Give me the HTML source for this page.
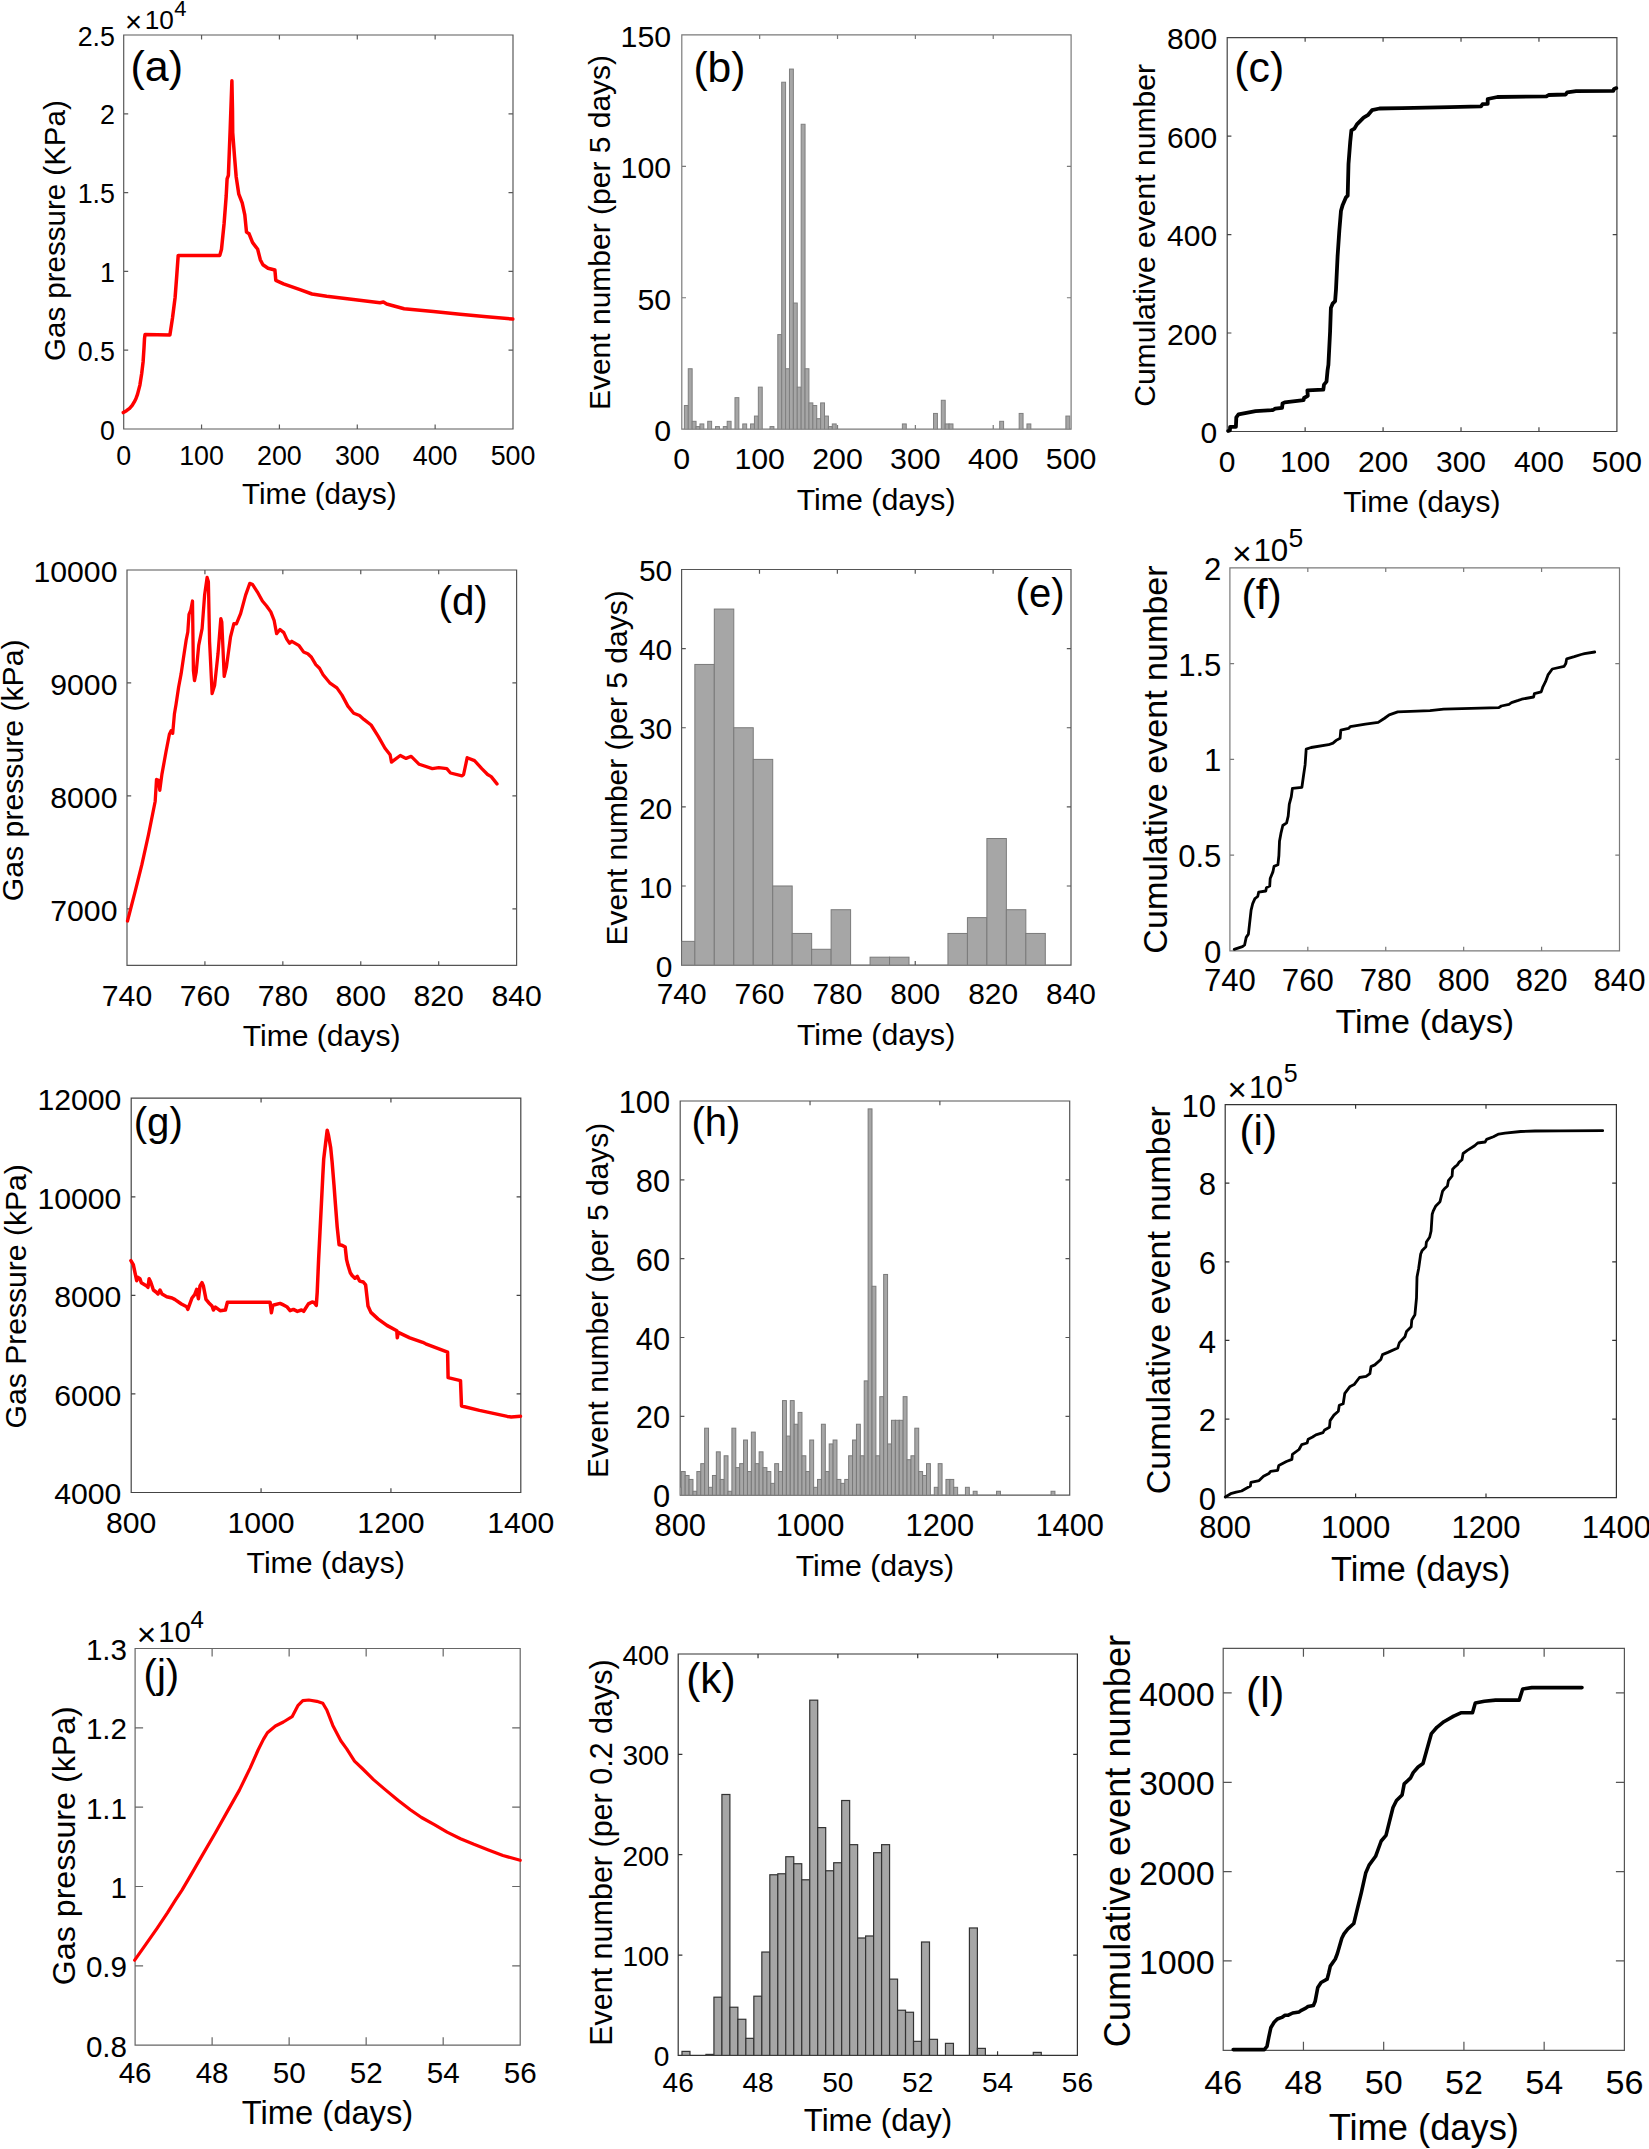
<!DOCTYPE html>
<html><head><meta charset="utf-8"><title>Figure</title><style>html,body{margin:0;padding:0;background:#fff;}svg{display:block;}</style></head><body><svg xmlns="http://www.w3.org/2000/svg" width="1649" height="2149" viewBox="0 0 1649 2149" font-family='"Liberation Sans", Arial, Helvetica, sans-serif' fill="#000"><g id="pa"><clipPath id="ca"><rect x="123.7" y="35" width="389.3" height="394"/></clipPath><path d="M123.7,35H513V429H123.7ZM123.7,429v-4.5M123.7,35v4.5M201.56,429v-4.5M201.56,35v4.5M279.42,429v-4.5M279.42,35v4.5M357.28,429v-4.5M357.28,35v4.5M435.14,429v-4.5M435.14,35v4.5M513,429v-4.5M513,35v4.5M123.7,429h4.5M513,429h-4.5M123.7,350.2h4.5M513,350.2h-4.5M123.7,271.4h4.5M513,271.4h-4.5M123.7,192.6h4.5M513,192.6h-4.5M123.7,113.8h4.5M513,113.8h-4.5M123.7,35h4.5M513,35h-4.5" fill="none" stroke="#5a5a5a" stroke-width="1.2"/><path d="M123.3,412.6 L126.5,410.7 L129.6,408.4 L132.2,405.4 L134.3,401.9 L136,398.4 L137.5,394.4 L139.9,385.1 L141.7,373.5 L143.1,361.9 L144,347.9 L144.5,338.6 L145,334.6 L169.9,334.9 L172.5,318 L175.1,297.5 L176.8,275 L178.2,255.4 L219.8,255.4 L221.5,249.3 L224.1,223.5 L226.2,196 L227.1,178.8 L228.4,175.3 L230.2,128.8 L231.9,80.7 L232.5,110 L232.7,132.3 L234.5,156.4 L236.2,177 L238.8,194.2 L242.2,202.9 L244.8,214.9 L246.5,232.1 L249.1,233.8 L252.5,242.4 L257.7,249.3 L260.3,259.7 L262.9,264.8 L268,268.3 L274.9,270 L275.8,280.3 L283.5,283.8 L300,289.7 L312,294 L326.7,296.3 L353.4,299.6 L380,302.7 L383.4,302 L386.7,304 L404.1,308.7 L433.4,311.4 L460.1,314.3 L486.8,316.7 L512.8,319.1" fill="none" stroke="#ff0000" stroke-width="3.5" stroke-linejoin="round" stroke-linecap="round"/><g font-size="26.8"><text x="123.7" y="464.86" text-anchor="middle">0</text><text x="201.56" y="464.86" text-anchor="middle">100</text><text x="279.42" y="464.86" text-anchor="middle">200</text><text x="357.28" y="464.86" text-anchor="middle">300</text><text x="435.14" y="464.86" text-anchor="middle">400</text><text x="513" y="464.86" text-anchor="middle">500</text><text x="114.91" y="439.58" text-anchor="end">0</text><text x="114.91" y="360.78" text-anchor="end">0.5</text><text x="114.91" y="281.98" text-anchor="end">1</text><text x="114.91" y="203.18" text-anchor="end">1.5</text><text x="114.91" y="124.38" text-anchor="end">2</text><text x="114.91" y="45.58" text-anchor="end">2.5</text></g><text x="319.4" y="503.89" font-size="29.5" text-anchor="middle">Time (days)</text><text transform="translate(65.09,230.6) rotate(-90)" font-size="29.5" text-anchor="middle">Gas pressure (KPa)</text><text x="130.42" y="81.17" font-size="43">(a)</text><text x="124.98" y="32.02" font-size="29.16">×</text><text x="144.68" y="28.67" font-size="26.2">10</text><text x="174.24" y="16.1" font-size="22">4</text></g>
<g id="pb"><clipPath id="cb"><rect x="681.8" y="34.9" width="389.3" height="394.3"/></clipPath><path d="M681.8,34.9H1071.1V429.2H681.8ZM681.8,429.2v-4.2M681.8,34.9v4.2M759.66,429.2v-4.2M759.66,34.9v4.2M837.52,429.2v-4.2M837.52,34.9v4.2M915.38,429.2v-4.2M915.38,34.9v4.2M993.24,429.2v-4.2M993.24,34.9v4.2M1071.1,429.2v-4.2M1071.1,34.9v4.2M681.8,429.2h4.2M1071.1,429.2h-4.2M681.8,297.77h4.2M1071.1,297.77h-4.2M681.8,166.33h4.2M1071.1,166.33h-4.2M681.8,34.9h4.2M1071.1,34.9h-4.2" fill="none" stroke="#7a7a7a" stroke-width="1.2"/><g clip-path="url(#cb)" fill="#a6a6a6" stroke="#7f7f7f" stroke-width="1.0"><rect x="684.37" y="405.54" width="3.89" height="23.66"/><rect x="688.26" y="368.74" width="3.89" height="60.46"/><rect x="692.16" y="421.31" width="3.89" height="7.89"/><rect x="696.05" y="426.57" width="3.89" height="2.63"/><rect x="699.94" y="423.94" width="3.89" height="5.26"/><rect x="707.73" y="421.31" width="3.89" height="7.89"/><rect x="715.51" y="426.57" width="3.89" height="2.63"/><rect x="723.3" y="426.57" width="3.89" height="2.63"/><rect x="727.19" y="421.31" width="3.89" height="7.89"/><rect x="734.98" y="397.66" width="3.89" height="31.54"/><rect x="742.76" y="423.94" width="3.89" height="5.26"/><rect x="750.55" y="423.94" width="3.89" height="5.26"/><rect x="754.44" y="416.06" width="3.89" height="13.14"/><rect x="758.34" y="387.14" width="3.89" height="42.06"/><rect x="770.02" y="426.57" width="3.89" height="2.63"/><rect x="777.8" y="334.57" width="3.89" height="94.63"/><rect x="781.69" y="82.22" width="3.89" height="346.98"/><rect x="785.59" y="368.74" width="3.89" height="60.46"/><rect x="789.48" y="69.07" width="3.89" height="360.13"/><rect x="793.37" y="303.02" width="3.89" height="126.18"/><rect x="797.27" y="387.14" width="3.89" height="42.06"/><rect x="801.16" y="124.27" width="3.89" height="304.93"/><rect x="805.05" y="368.74" width="3.89" height="60.46"/><rect x="808.95" y="402.91" width="3.89" height="26.29"/><rect x="812.84" y="405.54" width="3.89" height="23.66"/><rect x="816.73" y="418.69" width="3.89" height="10.51"/><rect x="820.62" y="402.91" width="3.89" height="26.29"/><rect x="824.52" y="416.06" width="3.89" height="13.14"/><rect x="828.41" y="426.57" width="3.89" height="2.63"/><rect x="832.3" y="423.94" width="3.89" height="5.26"/><rect x="902.38" y="423.94" width="3.89" height="5.26"/><rect x="933.52" y="413.43" width="3.89" height="15.77"/><rect x="941.31" y="400.28" width="3.89" height="28.92"/><rect x="945.2" y="423.94" width="3.89" height="5.26"/><rect x="949.09" y="423.94" width="3.89" height="5.26"/><rect x="999.7" y="421.31" width="3.89" height="7.89"/><rect x="1019.17" y="413.43" width="3.89" height="15.77"/><rect x="1026.95" y="423.94" width="3.89" height="5.26"/><rect x="1065.88" y="416.06" width="3.89" height="13.14"/></g><g font-size="30.3"><text x="681.8" y="468.91" text-anchor="middle">0</text><text x="759.66" y="468.91" text-anchor="middle">100</text><text x="837.52" y="468.91" text-anchor="middle">200</text><text x="915.38" y="468.91" text-anchor="middle">300</text><text x="993.24" y="468.91" text-anchor="middle">400</text><text x="1071.1" y="468.91" text-anchor="middle">500</text><text x="671.16" y="441" text-anchor="end">0</text><text x="671.16" y="309.57" text-anchor="end">50</text><text x="671.16" y="178.14" text-anchor="end">100</text><text x="671.16" y="46.7" text-anchor="end">150</text></g><text x="876.1" y="510.17" font-size="30.3" text-anchor="middle">Time (days)</text><text transform="translate(609.75,232.5) rotate(-90)" font-size="30" text-anchor="middle">Event number (per 5 days)</text><text x="693.44" y="82.28" font-size="42.6">(b)</text></g>
<g id="pc"><clipPath id="cc"><rect x="1227.2" y="37.6" width="389.7" height="393.9"/></clipPath><path d="M1227.2,37.6H1616.9V431.5H1227.2ZM1227.2,431.5v-4.2M1227.2,37.6v4.2M1305.14,431.5v-4.2M1305.14,37.6v4.2M1383.08,431.5v-4.2M1383.08,37.6v4.2M1461.02,431.5v-4.2M1461.02,37.6v4.2M1538.96,431.5v-4.2M1538.96,37.6v4.2M1616.9,431.5v-4.2M1616.9,37.6v4.2M1227.2,431.5h4.2M1616.9,431.5h-4.2M1227.2,333.02h4.2M1616.9,333.02h-4.2M1227.2,234.55h4.2M1616.9,234.55h-4.2M1227.2,136.08h4.2M1616.9,136.08h-4.2M1227.2,37.6h4.2M1616.9,37.6h-4.2" fill="none" stroke="#444" stroke-width="1.2"/><path d="M1228.2,431 L1229.9,430.5 L1230.1,426.8 L1235.9,426.8 L1236.3,417.3 L1238.5,414.4 L1255.6,411.1 L1273,410 L1275.2,408.6 L1282.1,407.8 L1282.5,403.5 L1284.7,402.4 L1303.6,400.2 L1304,398 L1307.8,395.8 L1307.4,390.4 L1323.3,389.7 L1324,384.6 L1326.5,381.6 L1327.6,370 L1328.4,364.9 L1330.1,331.4 L1330.9,307.9 L1332.6,303.7 L1335.1,301.2 L1336,289.5 L1337.6,256 L1339.3,230.8 L1341,210.7 L1342.7,204.9 L1346,197.3 L1347.7,195.6 L1348.5,163.8 L1350.2,142 L1351.4,130.3 L1354.4,128.6 L1356.9,124.4 L1359.4,121.9 L1363.6,117.7 L1367.8,115.2 L1372,110.2 L1379.5,108.5 L1402,108.2 L1449.8,107.1 L1481,106.4 L1482.5,104.2 L1487.7,103.9 L1487.7,99 L1497.4,97 L1546.4,96.4 L1548.6,95 L1565.7,94.5 L1567.2,92.3 L1576.1,91.2 L1613.3,90.8 L1614,89 L1616.3,88.1" fill="none" stroke="#000" stroke-width="3.8" stroke-linejoin="round" stroke-linecap="round"/><g font-size="30"><text x="1227.2" y="471.9" text-anchor="middle">0</text><text x="1305.14" y="471.9" text-anchor="middle">100</text><text x="1383.08" y="471.9" text-anchor="middle">200</text><text x="1461.02" y="471.9" text-anchor="middle">300</text><text x="1538.96" y="471.9" text-anchor="middle">400</text><text x="1616.9" y="471.9" text-anchor="middle">500</text><text x="1217.15" y="443.2" text-anchor="end">0</text><text x="1217.15" y="344.72" text-anchor="end">200</text><text x="1217.15" y="246.25" text-anchor="end">400</text><text x="1217.15" y="147.78" text-anchor="end">600</text><text x="1217.15" y="49.3" text-anchor="end">800</text></g><text x="1421.9" y="511.95" font-size="30" text-anchor="middle">Time (days)</text><text transform="translate(1154.82,235.4) rotate(-90)" font-size="30.1" text-anchor="middle">Cumulative event number</text><text x="1234.33" y="82.23" font-size="42.8">(c)</text></g>
<g id="pd"><clipPath id="cd"><rect x="127" y="570" width="389.6" height="395.4"/></clipPath><path d="M127,570H516.6V965.4H127ZM127,965.4v-4.2M127,570v4.2M204.92,965.4v-4.2M204.92,570v4.2M282.84,965.4v-4.2M282.84,570v4.2M360.76,965.4v-4.2M360.76,570v4.2M438.68,965.4v-4.2M438.68,570v4.2M516.6,965.4v-4.2M516.6,570v4.2M127,908.91h4.2M516.6,908.91h-4.2M127,795.94h4.2M516.6,795.94h-4.2M127,682.97h4.2M516.6,682.97h-4.2M127,570h4.2M516.6,570h-4.2" fill="none" stroke="#555" stroke-width="1.2"/><path d="M127.5,921 L135.1,891.7 L141.8,864.9 L148.5,834.7 L155.2,801.2 L156.5,779.4 L158.5,780.3 L159.8,790.3 L161.9,774.4 L166,751.8 L169.4,734.2 L171.1,730.8 L172.7,733.3 L174.4,714.1 L176.1,704 L178.6,687.3 L181.1,673.9 L183.6,657.1 L186.1,640.4 L187.8,632 L189,614.4 L190.8,610 L192.5,601 L193.4,670.5 L194.5,680.6 L196.2,672.2 L198.7,645.4 L202.1,628.6 L204.6,595.1 L207.1,577.5 L208.4,581.7 L209.6,642 L212.1,693.6 L214.6,685.6 L218,653.8 L220.8,618.6 L221.8,621.9 L224.2,676.4 L226.4,667.2 L230.5,637 L233.9,623.6 L236.4,623.9 L240.6,613.6 L245.6,595.1 L249.8,583.4 L252.3,584.2 L257.3,591.8 L262.4,601 L266.6,606 L270.8,611.9 L274.1,620.3 L276.6,633.7 L280,629.5 L283.8,632.6 L286.7,639.1 L289.6,643.2 L291.8,641.3 L299.1,645.7 L303.5,651.9 L307.8,653.7 L311.5,657.3 L315.8,664.6 L319.5,668.2 L323.1,674.8 L329.7,682.8 L336.9,687.9 L342,695.1 L347.9,706.1 L353.7,713.3 L359.5,715.5 L363.9,719.4 L371.1,725 L378.4,736.6 L385,748.3 L390.1,754.8 L391.5,762.1 L394.4,759.9 L400.3,755.5 L404.6,757.7 L406.1,758.4 L411.2,756.3 L419.2,764.3 L432.3,768.6 L438.8,767.6 L446.8,768.6 L450.5,773 L462.1,775.9 L463.6,774.5 L467.2,757.7 L474.5,760.6 L481.8,768.6 L487.6,774.5 L491.2,776.6 L497,783.9" fill="none" stroke="#ff0000" stroke-width="3.3" stroke-linejoin="round" stroke-linecap="round"/><g font-size="30.2"><text x="127" y="1005.74" text-anchor="middle">740</text><text x="204.92" y="1005.74" text-anchor="middle">760</text><text x="282.84" y="1005.74" text-anchor="middle">780</text><text x="360.76" y="1005.74" text-anchor="middle">800</text><text x="438.68" y="1005.74" text-anchor="middle">820</text><text x="516.6" y="1005.74" text-anchor="middle">840</text><text x="117.46" y="920.68" text-anchor="end">7000</text><text x="117.46" y="807.71" text-anchor="end">8000</text><text x="117.46" y="694.74" text-anchor="end">9000</text><text x="117.46" y="581.77" text-anchor="end">10000</text></g><text x="321.6" y="1046.12" font-size="30.1" text-anchor="middle">Time (days)</text><text transform="translate(22.89,770.3) rotate(-90)" font-size="30.2" text-anchor="middle">Gas pressure (kPa)</text><text x="438.48" y="615.32" font-size="40.3">(d)</text></g>
<g id="pe"><clipPath id="ce"><rect x="681.6" y="569.5" width="389.4" height="395.6"/></clipPath><path d="M681.6,569.5H1071V965.1H681.6ZM681.6,965.1v-4.2M681.6,569.5v4.2M759.48,965.1v-4.2M759.48,569.5v4.2M837.36,965.1v-4.2M837.36,569.5v4.2M915.24,965.1v-4.2M915.24,569.5v4.2M993.12,965.1v-4.2M993.12,569.5v4.2M1071,965.1v-4.2M1071,569.5v4.2M681.6,965.1h4.2M1071,965.1h-4.2M681.6,885.98h4.2M1071,885.98h-4.2M681.6,806.86h4.2M1071,806.86h-4.2M681.6,727.74h4.2M1071,727.74h-4.2M681.6,648.62h4.2M1071,648.62h-4.2M681.6,569.5h4.2M1071,569.5h-4.2" fill="none" stroke="#555" stroke-width="1.2"/><g clip-path="url(#ce)" fill="#a6a6a6" stroke="#7a7a7a" stroke-width="1.0"><rect x="681.6" y="941.36" width="13.24" height="23.74"/><rect x="694.84" y="664.44" width="19.47" height="300.66"/><rect x="714.31" y="609.06" width="19.47" height="356.04"/><rect x="733.78" y="727.74" width="19.47" height="237.36"/><rect x="753.25" y="759.39" width="19.47" height="205.71"/><rect x="772.72" y="885.98" width="19.47" height="79.12"/><rect x="792.19" y="933.45" width="19.47" height="31.65"/><rect x="811.66" y="949.28" width="19.47" height="15.82"/><rect x="831.13" y="909.72" width="19.47" height="55.38"/><rect x="870.07" y="957.19" width="19.47" height="7.91"/><rect x="889.54" y="957.19" width="19.47" height="7.91"/><rect x="947.95" y="933.45" width="19.47" height="31.65"/><rect x="967.42" y="917.63" width="19.47" height="47.47"/><rect x="986.89" y="838.51" width="19.47" height="126.59"/><rect x="1006.36" y="909.72" width="19.47" height="55.38"/><rect x="1025.83" y="933.45" width="19.47" height="31.65"/></g><g font-size="29.9"><text x="681.6" y="1004.33" text-anchor="middle">740</text><text x="759.48" y="1004.33" text-anchor="middle">760</text><text x="837.36" y="1004.33" text-anchor="middle">780</text><text x="915.24" y="1004.33" text-anchor="middle">800</text><text x="993.12" y="1004.33" text-anchor="middle">820</text><text x="1071" y="1004.33" text-anchor="middle">840</text><text x="672.25" y="976.77" text-anchor="end">0</text><text x="672.25" y="897.65" text-anchor="end">10</text><text x="672.25" y="818.53" text-anchor="end">20</text><text x="672.25" y="739.41" text-anchor="end">30</text><text x="672.25" y="660.29" text-anchor="end">40</text><text x="672.25" y="581.17" text-anchor="end">50</text></g><text x="876.1" y="1045" font-size="30.2" text-anchor="middle">Time (days)</text><text transform="translate(626.75,767.9) rotate(-90)" font-size="30" text-anchor="middle">Event number (per 5 days)</text><text x="1015.6" y="606.9" font-size="40">(e)</text></g>
<g id="pf"><clipPath id="cf"><rect x="1229.9" y="567.9" width="389.6" height="383"/></clipPath><path d="M1229.9,567.9H1619.5V950.9H1229.9ZM1229.9,950.9v-4.2M1229.9,567.9v4.2M1307.82,950.9v-4.2M1307.82,567.9v4.2M1385.74,950.9v-4.2M1385.74,567.9v4.2M1463.66,950.9v-4.2M1463.66,567.9v4.2M1541.58,950.9v-4.2M1541.58,567.9v4.2M1619.5,950.9v-4.2M1619.5,567.9v4.2M1229.9,950.9h4.2M1619.5,950.9h-4.2M1229.9,855.15h4.2M1619.5,855.15h-4.2M1229.9,759.4h4.2M1619.5,759.4h-4.2M1229.9,663.65h4.2M1619.5,663.65h-4.2M1229.9,567.9h4.2M1619.5,567.9h-4.2" fill="none" stroke="#7a7a7a" stroke-width="1.2"/><path d="M1234.2,949.4 L1242.4,946.7 L1244.6,945 L1246.2,937.4 L1248.4,934.1 L1249.5,924.3 L1251.1,910.1 L1252.7,903.6 L1254.9,898.6 L1257.7,896.5 L1258.7,892.1 L1265.8,891 L1266.4,887.7 L1269.7,886.1 L1270.2,878.5 L1272.9,871.9 L1274,866.4 L1277.9,864.8 L1278.9,855.5 L1279.5,841.3 L1281.1,832.6 L1282.8,825.5 L1286.6,822.8 L1288.2,816.2 L1289.3,804.2 L1291.3,796.6 L1292.4,788.4 L1301.9,787.3 L1303.5,775.8 L1305.1,764.9 L1306.2,749.1 L1311.1,747.5 L1328.6,744.7 L1333,743.1 L1336.2,740.4 L1340.1,738.2 L1340.8,730.1 L1348.5,728.4 L1350.2,726.7 L1365.5,724.1 L1378.2,722.4 L1384.2,718.5 L1389.2,714.8 L1397.7,711.9 L1430,710.6 L1443.6,709.2 L1498.8,707.7 L1501.3,706 L1509,704.3 L1511.5,702.6 L1518.3,700.4 L1521.7,699.2 L1533.6,697 L1534.4,693.6 L1541.2,691.9 L1542.9,686.8 L1545.5,681.7 L1548,674.9 L1552.3,669 L1564.1,666.4 L1565.8,663.5 L1566.7,658.8 L1574.3,656.7 L1581.1,654.5 L1584.5,653.7 L1594.7,652" fill="none" stroke="#000" stroke-width="2.8" stroke-linejoin="round" stroke-linecap="round"/><g font-size="31.1"><text x="1229.9" y="990.67" text-anchor="middle">740</text><text x="1307.82" y="990.67" text-anchor="middle">760</text><text x="1385.74" y="990.67" text-anchor="middle">780</text><text x="1463.66" y="990.67" text-anchor="middle">800</text><text x="1541.58" y="990.67" text-anchor="middle">820</text><text x="1619.5" y="990.67" text-anchor="middle">840</text><text x="1221.4" y="962.99" text-anchor="end">0</text><text x="1221.4" y="867.24" text-anchor="end">0.5</text><text x="1221.4" y="771.49" text-anchor="end">1</text><text x="1221.4" y="675.74" text-anchor="end">1.5</text><text x="1221.4" y="579.99" text-anchor="end">2</text></g><text x="1424.8" y="1032.82" font-size="34.1" text-anchor="middle">Time (days)</text><text transform="translate(1167.02,759.5) rotate(-90)" font-size="34.1" text-anchor="middle">Cumulative event number</text><text x="1241.43" y="609.43" font-size="42.8">(f)</text><text x="1231.95" y="564.74" font-size="33.87">×</text><text x="1253.41" y="560.94" font-size="31.3">10</text><text x="1288.61" y="546.8" font-size="26.5">5</text></g>
<g id="pg"><clipPath id="cg"><rect x="131.2" y="1098.2" width="389.6" height="394.3"/></clipPath><path d="M131.2,1098.2H520.8V1492.5H131.2ZM131.2,1492.5v-4.2M131.2,1098.2v4.2M261.07,1492.5v-4.2M261.07,1098.2v4.2M390.93,1492.5v-4.2M390.93,1098.2v4.2M520.8,1492.5v-4.2M520.8,1098.2v4.2M131.2,1492.5h4.2M520.8,1492.5h-4.2M131.2,1393.92h4.2M520.8,1393.92h-4.2M131.2,1295.35h4.2M520.8,1295.35h-4.2M131.2,1196.78h4.2M520.8,1196.78h-4.2M131.2,1098.2h4.2M520.8,1098.2h-4.2" fill="none" stroke="#444" stroke-width="1.2"/><path d="M130.9,1260.7 L133.3,1264.7 L136.7,1280.7 L138,1277.4 L140,1278.7 L141.3,1282.7 L146.7,1286 L148,1287.4 L149.1,1278.7 L150.7,1282 L153.4,1290 L156,1292 L158,1294 L160,1290 L162,1294 L166.7,1296.7 L172,1298 L174.7,1299.4 L181.4,1304 L186.7,1306.7 L187.8,1309.4 L192,1298 L194.7,1294.7 L196.7,1289.4 L198.4,1298.7 L200,1286 L202,1282.7 L203.4,1286 L206,1299.4 L208.7,1302.7 L212,1306 L213.4,1310 L215.4,1307.1 L220.1,1310.7 L225.4,1310 L227.4,1302.3 L270.1,1302.3 L271.4,1312.7 L272.8,1305.4 L274.8,1304.7 L280.1,1303.4 L282.8,1304.7 L286.8,1306.7 L290.1,1310.7 L293.4,1309.4 L297.4,1311.4 L301.5,1310 L303.7,1311.3 L308.4,1303.9 L312.1,1302 L314,1302.5 L316.3,1305.3 L317.2,1292.3 L318.6,1259.7 L320,1231.7 L321.4,1203.8 L322.8,1175.9 L323.7,1159.1 L325.6,1143.3 L327.2,1130.2 L328.4,1134.9 L330.7,1147.9 L332.1,1161.9 L334,1185.2 L335.4,1203.8 L337.2,1227.1 L339.1,1244.8 L341.9,1245.2 L345.2,1247.1 L346.6,1259.7 L348,1265.3 L350.3,1272.7 L352.1,1275.5 L354.9,1278.3 L357.3,1276.4 L359.6,1281.1 L363.3,1282 L365.6,1284.8 L367,1296.9 L368,1306 L370.9,1312.4 L377.9,1318.9 L386.9,1325.4 L396.8,1330.8 L397.3,1337.8 L398.3,1332.3 L409.8,1337.8 L422.7,1342.3 L425.7,1343.8 L447.6,1352.2 L448.1,1377.6 L460.5,1380.6 L461.5,1406 L479.4,1410.4 L507.3,1416.4 L511.2,1416.9 L520.5,1416.2" fill="none" stroke="#ff0000" stroke-width="3.5" stroke-linejoin="round" stroke-linecap="round"/><g font-size="30.2"><text x="131.2" y="1532.54" text-anchor="middle">800</text><text x="261.07" y="1532.54" text-anchor="middle">1000</text><text x="390.93" y="1532.54" text-anchor="middle">1200</text><text x="520.8" y="1532.54" text-anchor="middle">1400</text><text x="121.36" y="1504.27" text-anchor="end">4000</text><text x="121.36" y="1405.69" text-anchor="end">6000</text><text x="121.36" y="1307.12" text-anchor="end">8000</text><text x="121.36" y="1208.55" text-anchor="end">10000</text><text x="121.36" y="1109.97" text-anchor="end">12000</text></g><text x="325.7" y="1573.39" font-size="30.2" text-anchor="middle">Time (days)</text><text transform="translate(26.22,1296.3) rotate(-90)" font-size="30.1" text-anchor="middle">Gas Pressure (kPa)</text><text x="133.69" y="1136.14" font-size="40.2">(g)</text></g>
<g id="ph"><clipPath id="ch"><rect x="680.2" y="1101" width="389.5" height="394.2"/></clipPath><path d="M680.2,1101H1069.7V1495.2H680.2ZM680.2,1495.2v-4.2M680.2,1101v4.2M810.03,1495.2v-4.2M810.03,1101v4.2M939.87,1495.2v-4.2M939.87,1101v4.2M1069.7,1495.2v-4.2M1069.7,1101v4.2M680.2,1495.2h4.2M1069.7,1495.2h-4.2M680.2,1416.36h4.2M1069.7,1416.36h-4.2M680.2,1337.52h4.2M1069.7,1337.52h-4.2M680.2,1258.68h4.2M1069.7,1258.68h-4.2M680.2,1179.84h4.2M1069.7,1179.84h-4.2M680.2,1101h4.2M1069.7,1101h-4.2" fill="none" stroke="#555" stroke-width="1.2"/><g clip-path="url(#ch)" fill="#a6a6a6" stroke="#7a7a7a" stroke-width="1.0"><rect x="677.41" y="1487.32" width="3.89" height="7.88"/><rect x="681.3" y="1471.55" width="3.89" height="23.65"/><rect x="685.19" y="1475.49" width="3.89" height="19.71"/><rect x="689.08" y="1479.43" width="3.89" height="15.77"/><rect x="692.98" y="1491.26" width="3.89" height="3.94"/><rect x="696.87" y="1471.55" width="3.89" height="23.65"/><rect x="700.76" y="1463.66" width="3.89" height="31.54"/><rect x="704.65" y="1428.19" width="3.89" height="67.01"/><rect x="708.54" y="1487.32" width="3.89" height="7.88"/><rect x="712.44" y="1475.49" width="3.89" height="19.71"/><rect x="716.33" y="1451.84" width="3.89" height="43.36"/><rect x="720.22" y="1479.43" width="3.89" height="15.77"/><rect x="724.11" y="1455.78" width="3.89" height="39.42"/><rect x="728" y="1491.26" width="3.89" height="3.94"/><rect x="731.9" y="1428.19" width="3.89" height="67.01"/><rect x="735.79" y="1467.61" width="3.89" height="27.59"/><rect x="739.68" y="1463.66" width="3.89" height="31.54"/><rect x="743.57" y="1440.01" width="3.89" height="55.19"/><rect x="747.46" y="1471.55" width="3.89" height="23.65"/><rect x="751.36" y="1432.13" width="3.89" height="63.07"/><rect x="755.25" y="1463.66" width="3.89" height="31.54"/><rect x="759.14" y="1451.84" width="3.89" height="43.36"/><rect x="763.03" y="1467.61" width="3.89" height="27.59"/><rect x="766.92" y="1471.55" width="3.89" height="23.65"/><rect x="770.82" y="1483.37" width="3.89" height="11.83"/><rect x="774.71" y="1463.66" width="3.89" height="31.54"/><rect x="778.6" y="1471.55" width="3.89" height="23.65"/><rect x="782.49" y="1400.59" width="3.89" height="94.61"/><rect x="786.38" y="1436.07" width="3.89" height="59.13"/><rect x="790.28" y="1400.59" width="3.89" height="94.61"/><rect x="794.17" y="1424.24" width="3.89" height="70.96"/><rect x="798.06" y="1412.42" width="3.89" height="82.78"/><rect x="801.95" y="1455.78" width="3.89" height="39.42"/><rect x="805.84" y="1471.55" width="3.89" height="23.65"/><rect x="809.74" y="1440.01" width="3.89" height="55.19"/><rect x="813.63" y="1487.32" width="3.89" height="7.88"/><rect x="817.52" y="1479.43" width="3.89" height="15.77"/><rect x="821.41" y="1424.24" width="3.89" height="70.96"/><rect x="825.3" y="1471.55" width="3.89" height="23.65"/><rect x="829.2" y="1443.95" width="3.89" height="51.25"/><rect x="833.09" y="1440.01" width="3.89" height="55.19"/><rect x="836.98" y="1479.43" width="3.89" height="15.77"/><rect x="840.87" y="1483.37" width="3.89" height="11.83"/><rect x="844.76" y="1479.43" width="3.89" height="15.77"/><rect x="848.66" y="1455.78" width="3.89" height="39.42"/><rect x="852.55" y="1440.01" width="3.89" height="55.19"/><rect x="856.44" y="1424.24" width="3.89" height="70.96"/><rect x="860.33" y="1455.78" width="3.89" height="39.42"/><rect x="864.22" y="1380.88" width="3.89" height="114.32"/><rect x="868.12" y="1108.88" width="3.89" height="386.32"/><rect x="872.01" y="1286.27" width="3.89" height="208.93"/><rect x="875.9" y="1455.78" width="3.89" height="39.42"/><rect x="879.79" y="1396.65" width="3.89" height="98.55"/><rect x="883.68" y="1274.45" width="3.89" height="220.75"/><rect x="887.58" y="1443.95" width="3.89" height="51.25"/><rect x="891.47" y="1420.3" width="3.89" height="74.9"/><rect x="895.36" y="1420.3" width="3.89" height="74.9"/><rect x="899.25" y="1420.3" width="3.89" height="74.9"/><rect x="903.14" y="1396.65" width="3.89" height="98.55"/><rect x="907.04" y="1459.72" width="3.89" height="35.48"/><rect x="910.93" y="1455.78" width="3.89" height="39.42"/><rect x="914.82" y="1428.19" width="3.89" height="67.01"/><rect x="918.71" y="1471.55" width="3.89" height="23.65"/><rect x="922.6" y="1475.49" width="3.89" height="19.71"/><rect x="926.5" y="1463.66" width="3.89" height="31.54"/><rect x="934.28" y="1487.32" width="3.89" height="7.88"/><rect x="938.17" y="1463.66" width="3.89" height="31.54"/><rect x="945.96" y="1479.43" width="3.89" height="15.77"/><rect x="949.85" y="1479.43" width="3.89" height="15.77"/><rect x="953.74" y="1487.32" width="3.89" height="7.88"/><rect x="965.42" y="1487.32" width="3.89" height="7.88"/><rect x="973.2" y="1491.26" width="3.89" height="3.94"/><rect x="996.55" y="1491.26" width="3.89" height="3.94"/><rect x="1051.04" y="1491.26" width="3.89" height="3.94"/></g><g font-size="30.8"><text x="680.2" y="1535.86" text-anchor="middle">800</text><text x="810.03" y="1535.86" text-anchor="middle">1000</text><text x="939.87" y="1535.86" text-anchor="middle">1200</text><text x="1069.7" y="1535.86" text-anchor="middle">1400</text><text x="670.09" y="1507.18" text-anchor="end">0</text><text x="670.09" y="1428.34" text-anchor="end">20</text><text x="670.09" y="1349.5" text-anchor="end">40</text><text x="670.09" y="1270.66" text-anchor="end">60</text><text x="670.09" y="1191.82" text-anchor="end">80</text><text x="670.09" y="1112.98" text-anchor="end">100</text></g><text x="874.9" y="1575.99" font-size="30.2" text-anchor="middle">Time (days)</text><text transform="translate(608.25,1300.3) rotate(-90)" font-size="30" text-anchor="middle">Event number (per 5 days)</text><text x="691.5" y="1136.3" font-size="40">(h)</text></g>
<g id="pi"><clipPath id="ci"><rect x="1225.2" y="1104.6" width="391.2" height="393.1"/></clipPath><path d="M1225.2,1104.6H1616.4V1497.7H1225.2ZM1225.2,1497.7v-4.2M1225.2,1104.6v4.2M1355.6,1497.7v-4.2M1355.6,1104.6v4.2M1486,1497.7v-4.2M1486,1104.6v4.2M1616.4,1497.7v-4.2M1616.4,1104.6v4.2M1225.2,1497.7h4.2M1616.4,1497.7h-4.2M1225.2,1419.08h4.2M1616.4,1419.08h-4.2M1225.2,1340.46h4.2M1616.4,1340.46h-4.2M1225.2,1261.84h4.2M1616.4,1261.84h-4.2M1225.2,1183.22h4.2M1616.4,1183.22h-4.2M1225.2,1104.6h4.2M1616.4,1104.6h-4.2" fill="none" stroke="#333" stroke-width="1.2"/><path d="M1225.3,1497 L1230.7,1493.7 L1236.2,1492.1 L1241.6,1491 L1245.5,1488.8 L1250.4,1486.1 L1250.9,1482.3 L1259.1,1480.6 L1263.5,1476.3 L1268.9,1473.5 L1270.6,1471.4 L1277.7,1470.3 L1278.8,1465.4 L1286.4,1461.5 L1291.9,1459.4 L1292.4,1454.4 L1299,1449.5 L1301.7,1444.6 L1307.1,1443 L1308.2,1439.2 L1312.6,1437 L1315.9,1434.8 L1323,1432.6 L1324.6,1429.9 L1329.5,1427.2 L1330.1,1420.6 L1333.9,1415.1 L1338.3,1411.3 L1339.3,1405.3 L1343.2,1403.7 L1344.8,1393.3 L1349.7,1386.8 L1354.1,1384.6 L1359.5,1377.5 L1366.1,1376.4 L1369.9,1373.7 L1371,1366.6 L1374.8,1364.9 L1380.8,1359.5 L1382.5,1354.6 L1387.9,1352.4 L1397.7,1348 L1399.4,1342.6 L1404.9,1336.8 L1406.5,1331.5 L1411.2,1326.8 L1411.8,1320 L1414.9,1314.8 L1416.5,1298 L1417,1277.1 L1418.6,1268.7 L1420.7,1254 L1422.2,1250.4 L1425.9,1246.7 L1426.4,1242 L1429.6,1237.3 L1431.1,1231 L1432.2,1214.2 L1433.2,1211.1 L1435.8,1205.9 L1440,1201.7 L1442.6,1191.2 L1444.2,1189.1 L1447.4,1186 L1448.4,1180.7 L1452.1,1176 L1452.6,1169.2 L1455.2,1166.6 L1457.3,1165 L1458.9,1162.4 L1462,1159.8 L1463.1,1153.5 L1467.3,1150.4 L1474.6,1145.7 L1477.7,1143 L1485.1,1142 L1486.6,1139.4 L1493.4,1136.8 L1498.7,1134.1 L1505,1133.1 L1520.7,1131.5 L1535,1131 L1560,1130.8 L1602.7,1130.7" fill="none" stroke="#000" stroke-width="2.8" stroke-linejoin="round" stroke-linecap="round"/><g font-size="31.1"><text x="1225.2" y="1537.87" text-anchor="middle">800</text><text x="1355.6" y="1537.87" text-anchor="middle">1000</text><text x="1486" y="1537.87" text-anchor="middle">1200</text><text x="1616.4" y="1537.87" text-anchor="middle">1400</text><text x="1216.1" y="1509.79" text-anchor="end">0</text><text x="1216.1" y="1431.16" text-anchor="end">2</text><text x="1216.1" y="1352.55" text-anchor="end">4</text><text x="1216.1" y="1273.92" text-anchor="end">6</text><text x="1216.1" y="1195.3" text-anchor="end">8</text><text x="1216.1" y="1116.68" text-anchor="end">10</text></g><text x="1420.7" y="1581" font-size="34.2" text-anchor="middle">Time (days)</text><text transform="translate(1170.32,1300.2) rotate(-90)" font-size="34.1" text-anchor="middle">Cumulative event number</text><text x="1239.46" y="1145.14" font-size="42.4">(i)</text><text x="1227.41" y="1100.64" font-size="32.97">×</text><text x="1248.96" y="1097.85" font-size="30.5">10</text><text x="1283.65" y="1082" font-size="25">5</text></g>
<g id="pj"><clipPath id="cj"><rect x="135.1" y="1648.5" width="385.1" height="396.7"/></clipPath><path d="M135.1,1648.5H520.2V2045.2H135.1ZM135.1,2045.2v-8M135.1,1648.5v8M212.12,2045.2v-8M212.12,1648.5v8M289.14,2045.2v-8M289.14,1648.5v8M366.16,2045.2v-8M366.16,1648.5v8M443.18,2045.2v-8M443.18,1648.5v8M520.2,2045.2v-8M520.2,1648.5v8M135.1,2045.2h8M520.2,2045.2h-8M135.1,1965.86h8M520.2,1965.86h-8M135.1,1886.52h8M520.2,1886.52h-8M135.1,1807.18h8M520.2,1807.18h-8M135.1,1727.84h8M520.2,1727.84h-8M135.1,1648.5h8M520.2,1648.5h-8" fill="none" stroke="#666" stroke-width="1.2"/><path d="M134.7,1960.2 L146,1944.2 L156.7,1928.8 L167.4,1912.8 L175.4,1900.1 L182,1890.1 L191.4,1874.1 L203.4,1853.4 L215.4,1832.8 L227.4,1811.4 L239.4,1790.1 L250.1,1768.1 L258.1,1750 L263.4,1739.4 L267.4,1732.7 L275.4,1726 L283.4,1722 L292.1,1716.7 L298.1,1705.3 L302.8,1700.7 L308.8,1700 L316.8,1701.3 L322.8,1703.3 L326.8,1710 L332.8,1725.4 L340.8,1740.7 L346.7,1748.9 L354.5,1761.2 L362.3,1768.5 L373.5,1779.6 L384.6,1789.1 L398,1800.3 L410.3,1809.7 L421.5,1817.5 L434.8,1824.8 L447.1,1832.1 L460.5,1838.7 L473.9,1844.3 L488.4,1849.9 L502.9,1855.5 L520.2,1860.3" fill="none" stroke="#ff0000" stroke-width="3.2" stroke-linejoin="round" stroke-linecap="round"/><g font-size="29.6"><text x="135.1" y="2082.72" text-anchor="middle">46</text><text x="212.12" y="2082.72" text-anchor="middle">48</text><text x="289.14" y="2082.72" text-anchor="middle">50</text><text x="366.16" y="2082.72" text-anchor="middle">52</text><text x="443.18" y="2082.72" text-anchor="middle">54</text><text x="520.2" y="2082.72" text-anchor="middle">56</text><text x="127.03" y="2056.76" text-anchor="end">0.8</text><text x="127.03" y="1977.42" text-anchor="end">0.9</text><text x="127.03" y="1898.08" text-anchor="end">1</text><text x="127.03" y="1818.74" text-anchor="end">1.1</text><text x="127.03" y="1739.4" text-anchor="end">1.2</text><text x="127.03" y="1660.06" text-anchor="end">1.3</text></g><text x="327.5" y="2123.91" font-size="32.7" text-anchor="middle">Time (days)</text><text transform="translate(74.84,1845.7) rotate(-90)" font-size="32.2" text-anchor="middle">Gas pressure (kPa)</text><text x="143.6" y="1688.2" font-size="40">(j)</text><text x="136.78" y="1646.19" font-size="33.42">×</text><text x="158.25" y="1641.95" font-size="29.3">10</text><text x="190.48" y="1627.9" font-size="24">4</text></g>
<g id="pk"><clipPath id="ck"><rect x="678.2" y="1654" width="399.2" height="401.4"/></clipPath><path d="M678.2,1654H1077.4V2055.4H678.2ZM678.2,2055.4v-4.2M678.2,1654v4.2M758.04,2055.4v-4.2M758.04,1654v4.2M837.88,2055.4v-4.2M837.88,1654v4.2M917.72,2055.4v-4.2M917.72,1654v4.2M997.56,2055.4v-4.2M997.56,1654v4.2M1077.4,2055.4v-4.2M1077.4,1654v4.2M678.2,2055.4h4.2M1077.4,2055.4h-4.2M678.2,1955.05h4.2M1077.4,1955.05h-4.2M678.2,1854.7h4.2M1077.4,1854.7h-4.2M678.2,1754.35h4.2M1077.4,1754.35h-4.2M678.2,1654h4.2M1077.4,1654h-4.2" fill="none" stroke="#333" stroke-width="1.2"/><g clip-path="url(#ck)" fill="#a6a6a6" stroke="#333" stroke-width="1.2"><rect x="681.99" y="2051.39" width="7.98" height="4.01"/><rect x="705.94" y="2054.4" width="7.98" height="1"/><rect x="713.93" y="1997.2" width="7.98" height="58.2"/><rect x="721.91" y="1794.49" width="7.98" height="260.91"/><rect x="729.9" y="2007.23" width="7.98" height="48.17"/><rect x="737.88" y="2019.27" width="7.98" height="36.13"/><rect x="745.86" y="2038.34" width="7.98" height="17.06"/><rect x="753.85" y="1996.19" width="7.98" height="59.21"/><rect x="761.83" y="1952.04" width="7.98" height="103.36"/><rect x="769.82" y="1874.77" width="7.98" height="180.63"/><rect x="777.8" y="1873.77" width="7.98" height="181.63"/><rect x="785.78" y="1856.71" width="7.98" height="198.69"/><rect x="793.77" y="1863.73" width="7.98" height="191.67"/><rect x="801.75" y="1879.79" width="7.98" height="175.61"/><rect x="809.74" y="1700.16" width="7.98" height="355.24"/><rect x="817.72" y="1827.61" width="7.98" height="227.79"/><rect x="825.7" y="1870.76" width="7.98" height="184.64"/><rect x="833.69" y="1862.73" width="7.98" height="192.67"/><rect x="841.67" y="1800.51" width="7.98" height="254.89"/><rect x="849.66" y="1844.66" width="7.98" height="210.74"/><rect x="857.64" y="1937.99" width="7.98" height="117.41"/><rect x="865.62" y="1935.98" width="7.98" height="119.42"/><rect x="873.61" y="1852.69" width="7.98" height="202.71"/><rect x="881.59" y="1844.66" width="7.98" height="210.74"/><rect x="889.58" y="1979.13" width="7.98" height="76.27"/><rect x="897.56" y="2010.24" width="7.98" height="45.16"/><rect x="905.54" y="2012.25" width="7.98" height="43.15"/><rect x="913.53" y="2041.35" width="7.98" height="14.05"/><rect x="921.51" y="1942" width="7.98" height="113.4"/><rect x="929.5" y="2039.34" width="7.98" height="16.06"/><rect x="945.46" y="2043.36" width="7.98" height="12.04"/><rect x="969.42" y="1927.96" width="7.98" height="127.44"/><rect x="977.4" y="2048.38" width="7.98" height="7.02"/><rect x="1033.29" y="2052.39" width="7.98" height="3.01"/></g><g font-size="28.1"><text x="678.2" y="2092.07" text-anchor="middle">46</text><text x="758.04" y="2092.07" text-anchor="middle">48</text><text x="837.88" y="2092.07" text-anchor="middle">50</text><text x="917.72" y="2092.07" text-anchor="middle">52</text><text x="997.56" y="2092.07" text-anchor="middle">54</text><text x="1077.4" y="2092.07" text-anchor="middle">56</text><text x="669.26" y="2066.43" text-anchor="end">0</text><text x="669.26" y="1966.09" text-anchor="end">100</text><text x="669.26" y="1865.74" text-anchor="end">200</text><text x="669.26" y="1765.38" text-anchor="end">300</text><text x="669.26" y="1665.04" text-anchor="end">400</text></g><text x="877.9" y="2130.89" font-size="31.3" text-anchor="middle">Time (day)</text><text transform="translate(611.71,1852.6) rotate(-90)" font-size="30.5" text-anchor="middle">Event number (per 0.2 days)</text><text x="686.26" y="1693.14" font-size="42.4">(k)</text></g>
<g id="pl"><clipPath id="cl"><rect x="1223.2" y="1648.3" width="401.2" height="402"/></clipPath><path d="M1223.2,1648.3H1624.4V2050.3H1223.2ZM1223.2,2050.3v-8.5M1223.2,1648.3v8.5M1303.44,2050.3v-8.5M1303.44,1648.3v8.5M1383.68,2050.3v-8.5M1383.68,1648.3v8.5M1463.92,2050.3v-8.5M1463.92,1648.3v8.5M1544.16,2050.3v-8.5M1544.16,1648.3v8.5M1624.4,2050.3v-8.5M1624.4,1648.3v8.5M1223.2,1960.97h8.5M1624.4,1960.97h-8.5M1223.2,1871.63h8.5M1624.4,1871.63h-8.5M1223.2,1782.3h8.5M1624.4,1782.3h-8.5M1223.2,1692.97h8.5M1624.4,1692.97h-8.5" fill="none" stroke="#555" stroke-width="1.2"/><path d="M1233.2,2049.6 L1264.3,2049.6 L1267,2046.3 L1268.7,2037.6 L1270.8,2027.8 L1274.1,2022.3 L1277.4,2019 L1281.8,2017.4 L1285,2015.2 L1288.3,2015.2 L1292.7,2013 L1299.2,2011.9 L1301.4,2010.3 L1305.8,2008.1 L1308,2006.5 L1313.4,2005.4 L1315.1,2001.6 L1317.8,1987.4 L1321.1,1982.5 L1327.1,1979.2 L1328.7,1973.2 L1330.3,1966.1 L1335.3,1959 L1337.4,1953.5 L1341.8,1938.2 L1344,1933.9 L1347.8,1929 L1353.8,1923.5 L1357.1,1909.9 L1361.4,1892.4 L1365.8,1872.7 L1369.1,1865.1 L1375.6,1856.3 L1381.2,1841 L1386,1835.4 L1389.5,1821.4 L1393,1807.5 L1396.5,1800.5 L1402.1,1795 L1404.2,1783.8 L1410.4,1778.2 L1413.2,1772.6 L1418.1,1767 L1423,1763.6 L1426.5,1751 L1431.4,1733.6 L1436.9,1727.3 L1443.9,1721.7 L1453.7,1716.1 L1461.4,1712.7 L1472.5,1712.7 L1475.3,1702.9 L1484.4,1701.2 L1495.5,1700.1 L1519.2,1700.1 L1522.7,1689 L1531.8,1687.6 L1582,1687.6" fill="none" stroke="#000" stroke-width="3.6" stroke-linejoin="round" stroke-linecap="round"/><g font-size="34.1"><text x="1223.2" y="2093.77" text-anchor="middle">46</text><text x="1303.44" y="2093.77" text-anchor="middle">48</text><text x="1383.68" y="2093.77" text-anchor="middle">50</text><text x="1463.92" y="2093.77" text-anchor="middle">52</text><text x="1544.16" y="2093.77" text-anchor="middle">54</text><text x="1624.4" y="2093.77" text-anchor="middle">56</text><text x="1214.73" y="1974.1" text-anchor="end">1000</text><text x="1214.73" y="1884.77" text-anchor="end">2000</text><text x="1214.73" y="1795.44" text-anchor="end">3000</text><text x="1214.73" y="1706.1" text-anchor="end">4000</text></g><text x="1423.8" y="2140.32" font-size="36.3" text-anchor="middle">Time (days)</text><text transform="translate(1129.64,1841) rotate(-90)" font-size="36.2" text-anchor="middle">Cumulative event number</text><text x="1246.02" y="1706.67" font-size="43">(l)</text></g></svg></body></html>
